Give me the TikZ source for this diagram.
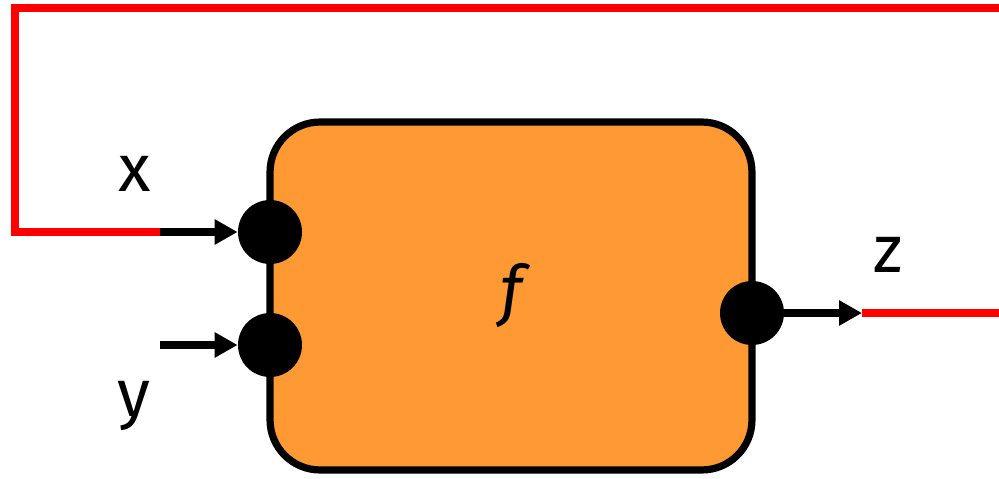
\documentclass[tikz,border=0pt]{standalone}
\usepackage{fontspec}
\setmainfont{Fira Sans}
\usetikzlibrary{arrows.meta,positioning}
\definecolor{boxorange}{HTML}{FF9933}

\begin{document}
\begin{tikzpicture}[x=0.02cm, y=-0.02cm,
    func/.style={draw, line width=4.1pt, fill=boxorange, rounded corners=1cm, minimum width=9.64cm, minimum height=6.96cm, font=\fontsize{38}{40}\selectfont\itshape},
    port/.style={circle, fill=black, minimum size=1.28cm, inner sep=0pt},
    lbl/.style={anchor=base, font=\fontsize{38}{40}\selectfont},
    arrow/.style={-{Triangle[length=4.6mm, width=4.8mm]}, line width=4pt},
    wire/.style={red, line width=4.1pt}
]
    \useasboundingbox (0,0) rectangle (999,479);
    \node[func] (f) at (511,296) {f};
    \node[port] (px) at (270,232) {};
    \node[port] (py) at (270,345) {};
    \node[port] (pz) at (752,313) {};

    \coordinate (xin) at (160,232);
    \coordinate (yin) at (160,345);
    \coordinate (zout) at (862,313);
    \coordinate (ltop) at (15,8);
    \coordinate (rtop) at (1005,8);
    \coordinate (rend) at (1005,313);

    \node[lbl] (lx) at (135,192) {x};
    \node[lbl] (ly) at (134,416) {y};
    \node[lbl] (lz) at (888,273) {z};

    \draw[wire] (xin) -| (ltop) -- (rtop);
    \draw[wire] (zout) -- (rend);
    \draw[arrow] (xin) -- (px);
    \draw[arrow] (yin) -- (py);
    \draw[arrow] (pz) -- (zout);
\end{tikzpicture}
\end{document}
